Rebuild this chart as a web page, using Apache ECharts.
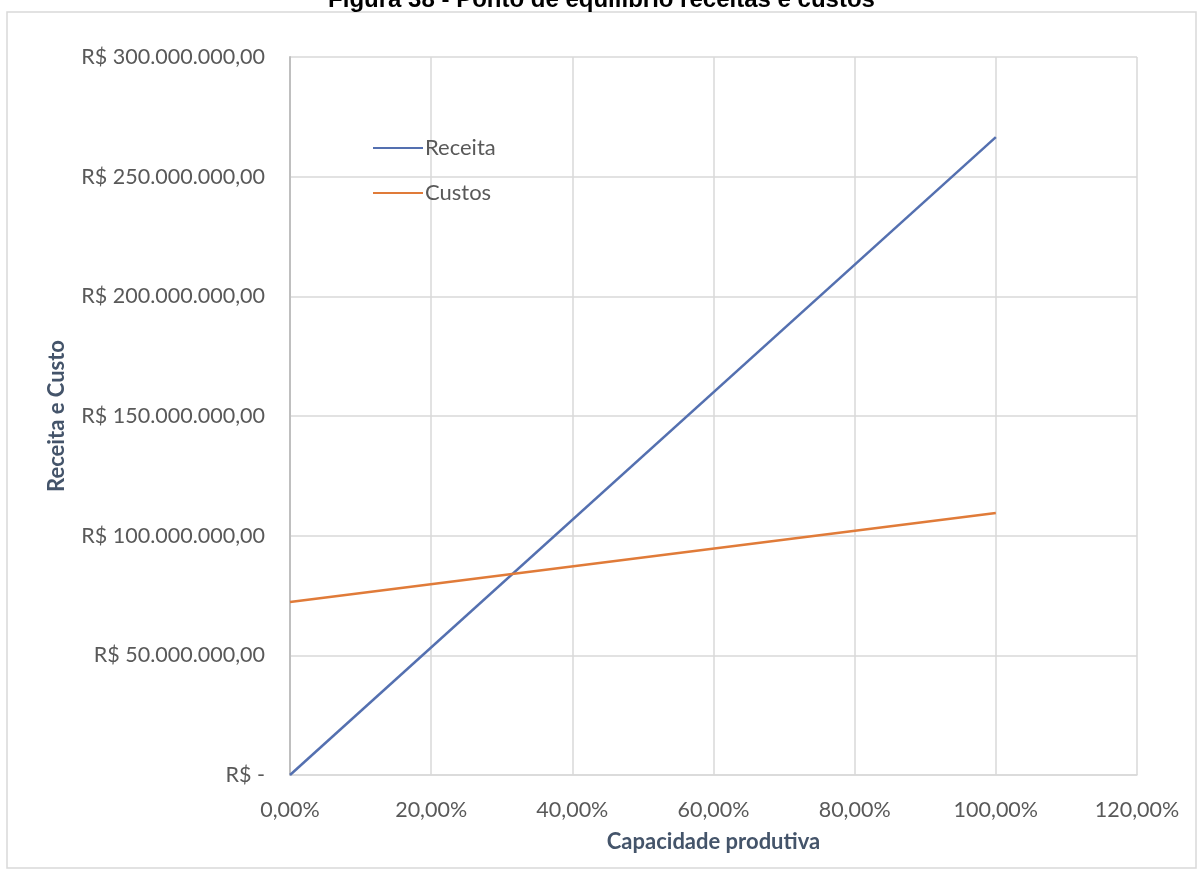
<!DOCTYPE html>
<html><head><meta charset="utf-8">
<script src="https://cdn.jsdelivr.net/npm/echarts@6/dist/echarts.min.js"></script>
<style>html,body{margin:0;padding:0;background:#fff}#c{width:1203px;height:872px}</style>
</head><body><div id="c"></div>
<script>
const capacity = [0, 1];
const receita = [0, 266500000];
const custos = [72300000, 109500000];
const xTicks = [0, 0.2, 0.4, 0.6, 0.8, 1.0, 1.2];
const seriesNames = ['Receita', 'Custos'];

function fmtMoney(v){
  if (v === 0) return 'R$ -';
  const s = Math.round(v).toString().replace(/\B(?=(\d{3})+(?!\d))/g, '.');
  return 'R$ ' + s + ',00';
}
function fmtPct(v){ return (v*100).toFixed(2).replace('.', ',') + '%'; }

const chart = echarts.init(document.getElementById('c'));
const font = 'Lato, "Open Sans", sans-serif';
chart.setOption({
  animation: false,
  backgroundColor: '#fff',
  textStyle: { fontFamily: font },
  title: {
    text: 'Figura 38 - Ponto de equilíbrio receitas e custos',
    left: 'center', top: -17,
    textStyle: { fontFamily: 'Liberation Sans, Arial, sans-serif', fontWeight: 'bold', fontSize: 24, color: '#000' }
  },
  graphic: [
    { type: 'rect', shape: { x: 7, y: 12, width: 1189, height: 856 }, style: { fill: 'none', stroke: '#d9d9d9', lineWidth: 1.5 }, z: -1 }
  ],
  legend: {
    orient: 'vertical', left: 368, top: 132, itemGap: 23, itemWidth: 50, itemHeight: 2,
    data: seriesNames.map(n => ({ name: n, icon: 'rect' })),
    textStyle: { fontSize: 22, color: '#595959', fontFamily: font, padding: [0,0,0,-3] }
  },
  grid: { left: 290, right: 66, top: 57, bottom: 97, containLabel: false },
  xAxis: {
    type: 'value', min: 0, max: 1.2, interval: 0.2,
    name: 'Capacidade produtiva', nameLocation: 'middle', nameGap: 56, nameMoveOverlap: false,
    nameTextStyle: { fontSize: 22, fontWeight: 'bold', color: '#44546a', fontFamily: font },
    axisLine: { show: true, lineStyle: { color: '#d9d9d9', width: 1.5 } },
    axisTick: { show: false },
    splitLine: { show: true, lineStyle: { color: '#d9d9d9', width: 1.5 } },
    axisLabel: { formatter: fmtPct, fontSize: 21.5, color: '#595959', margin: 24, showMaxLabel: true }
  },
  yAxis: {
    type: 'value', min: 0, max: 300000000, interval: 50000000,
    name: 'Receita e Custo', nameLocation: 'middle', nameGap: 222, nameRotate: 90, nameMoveOverlap: false,
    nameTextStyle: { fontSize: 22, fontWeight: 'bold', color: '#44546a', fontFamily: font },
    axisLine: { show: true, lineStyle: { color: '#bfbfbf', width: 2 } },
    axisTick: { show: false },
    splitLine: { show: true, lineStyle: { color: '#d9d9d9', width: 1.5 } },
    axisLabel: { formatter: fmtMoney, fontSize: 21.5, color: '#595959', margin: 25 }
  },
  series: [
    { name: seriesNames[0], type: 'line', data: capacity.map((x,i)=>[x, receita[i]]), showSymbol: false,
      lineStyle: { color: '#5470b0', width: 2.5 }, itemStyle: { color: '#5470b0' } },
    { name: seriesNames[1], type: 'line', data: capacity.map((x,i)=>[x, custos[i]]), showSymbol: false,
      lineStyle: { color: '#e07b39', width: 2.5 }, itemStyle: { color: '#e07b39' } }
  ]
});
</script></body></html>
